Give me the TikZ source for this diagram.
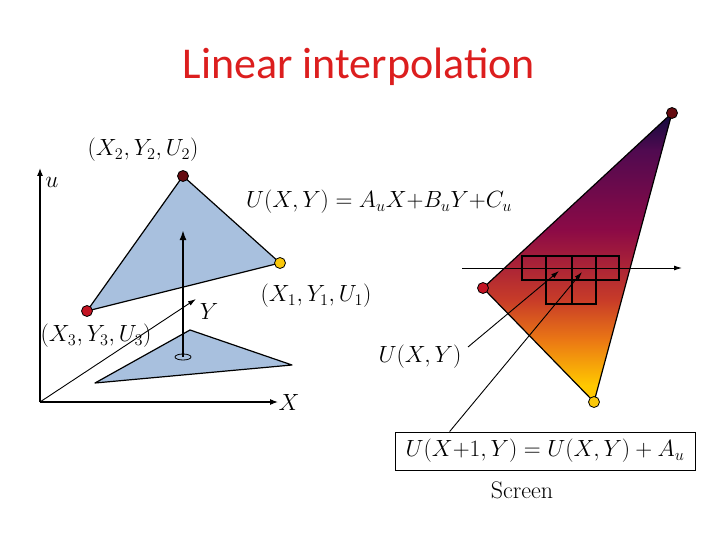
\documentclass[tikz,border=0pt]{standalone}
\usepackage{fontspec}
\usepackage{graphicx}
\newfontfamily\titlefont{Carlito}
\usetikzlibrary{arrows.meta,shapes.geometric}
\definecolor{tri}{RGB}{168,192,222}
\definecolor{vdark}{RGB}{100,10,15}
\definecolor{vred}{RGB}{195,20,35}
\definecolor{vyel}{RGB}{250,200,10}
\definecolor{g1}{RGB}{10,10,60}
\definecolor{g2}{RGB}{80,10,80}
\definecolor{g3}{RGB}{140,10,70}
\definecolor{g4}{RGB}{200,60,40}
\definecolor{g5}{RGB}{235,120,20}
\definecolor{g6}{RGB}{255,200,0}
\newcommand{\lbig}[1]{\scalebox{1.13}{$#1$}}
\tikzset{
 tri/.style={fill=tri,draw=black,line width=1.2pt,line join=round},
 vert/.style={circle,draw=black,line width=0.8pt,inner sep=0pt,minimum size=11pt},
 lab/.style={font=\fontsize{20.74}{24}\selectfont,inner sep=0pt},
 arr/.style={-{Latex[length=8pt,width=6pt]},line width=1.1pt},
 thinarr/.style={-{Latex[length=8pt,width=5pt]},line width=0.9pt}
}
\begin{document}
\begin{tikzpicture}[x=1pt,y=-1pt]
\useasboundingbox (0,0) rectangle (720,540);
\node[font=\titlefont\fontsize{44}{46}\selectfont,text={rgb,255:red,220;green,30;blue,30}] (title) at (359,67) {Linear interpolation};
% axes
\coordinate (O) at (40,402);
\coordinate (Ut) at (40,168);
\coordinate (Xt) at (278,402);
\coordinate (Yt) at (196,299);
\draw[arr] (O) -- (Ut);
\draw[arr] (O) -- (Xt);
\draw[thinarr] (O) -- (Yt);
% lower triangle
\draw[tri] (190,330) -- (292,365) -- (95,383) -- cycle;
\node[draw,fill=tri,ellipse,line width=0.8pt,minimum width=16pt,minimum height=6pt,inner sep=0pt] (e) at (183,357) {};
% upper triangle
\coordinate (P2) at (183,176);
\coordinate (P1) at (280,263);
\coordinate (P3) at (87,311);
\draw[tri] (P2) -- (P1) -- (P3) -- cycle;
\coordinate (At) at (183,230);
\draw[-{Latex[length=10pt,width=7pt]},line width=2pt] (e.center) -- (At);
\node[vert,fill=vdark] (v2) at (P2) {};
\node[vert,fill=vyel] (v1) at (P1) {};
\node[vert,fill=vred] (v3) at (P3) {};
% labels
\node[lab] (l2) at (143,150) {\lbig{(X_2,Y_2,U_2)}};
\node[lab] (lu) at (52,182) {\lbig{u}};
\node[lab] (lf) at (379,202) {\lbig{U(X,Y) = A_uX{+}B_uY{+}C_u}};
\node[lab] (lY) at (209,311) {\lbig{Y}};
\node[lab] (l1) at (316,296) {\lbig{(X_1,Y_1,U_1)}};
\node[lab] (l3) at (96,336) {\lbig{(X_3,Y_3,U_3)}};
\node[lab] (lX) at (289,402) {\lbig{X}};
\node[lab] (lU) at (420,357) {\lbig{U(X,Y)}};
% right triangle
\coordinate (R1) at (672,113);
\coordinate (R2) at (483,288);
\coordinate (R3) at (594,402);
\begin{scope}
\clip (R1) -- (R2) -- (R3) -- cycle;
\shade[top color=g1,bottom color=g2] (480,110) rectangle (680,150.5);
\shade[top color=g2,bottom color=g3] (480,150) rectangle (680,230.5);
\shade[top color=g3,bottom color=g4] (480,230) rectangle (680,300.5);
\shade[top color=g4,bottom color=g5] (480,300) rectangle (680,340.5);
\shade[top color=g5,bottom color=g6] (480,340) rectangle (680,385.5);
\fill[g6] (480,385) rectangle (680,406);
\end{scope}
\draw[line width=1.2pt,line join=round] (R1) -- (R2) -- (R3) -- cycle;
\coordinate (ha) at (462,268);
\coordinate (hb) at (682,268);
\draw[thinarr] (ha) -- (hb);
\draw[line width=1.2pt] (522,256) rectangle (546,280) (546,256) rectangle (572,280) (572,256) rectangle (596,280) (596,256) rectangle (619,280) (546,280) rectangle (572,304) (572,280) rectangle (596,304);
\node[vert,fill=vdark] (w1) at (R1) {};
\node[vert,fill=vred] (w2) at (R2) {};
\node[vert,fill=vyel] (w3) at (R3) {};
\coordinate (a1s) at (468,347);
\coordinate (a1e) at (559,271);
\coordinate (a2e) at (582,272);
\draw[thinarr] (a1s) -- (a1e);
\node[lab,draw,line width=0.8pt,minimum width=300pt,minimum height=38pt] (box) at (545,451) {\lbig{U(X{+}1,Y) = U(X,Y) + A_u}};
\draw[thinarr] (box.north west)++(55,0) coordinate (a2s) -- (a2e);
\node[font=\fontsize{24}{26}\selectfont] (scr) at (522,490) {Screen};
\end{tikzpicture}
\end{document}
